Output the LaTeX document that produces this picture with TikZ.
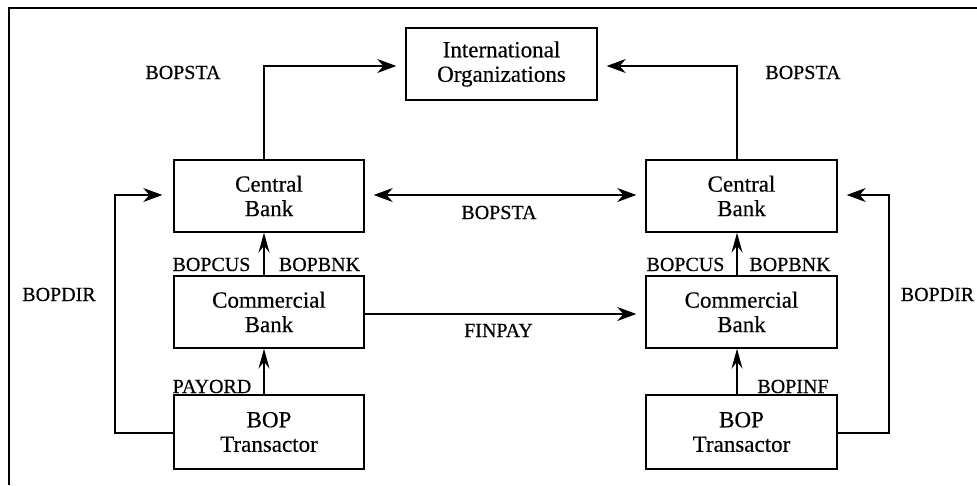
\documentclass[tikz,border=0pt]{standalone}
\usepackage{fontspec}
\setmainfont{Liberation Serif}[FakeBold=0.4]
\usetikzlibrary{arrows.meta,positioning}
\begin{document}
\begin{tikzpicture}[x=1pt,y=-1pt,
  box/.style={draw,line width=1.4pt,minimum width=190pt,minimum height=72pt,inner sep=0pt,align=center,
    font=\fontsize{23}{24.5}\selectfont},
  lbl/.style={inner sep=0pt,anchor=base,font=\fontsize{20}{24}\selectfont},
  conn/.style={line width=1.4pt},
  tip/.style={-{Stealth[length=19pt,width=14pt,inset=6pt]}},
  vtip/.style={-{Stealth[length=20pt,width=11pt,inset=7pt]}},
  dtip/.style={{Stealth[length=19pt,width=14pt,inset=6pt]}-{Stealth[length=19pt,width=14pt,inset=6pt]}}
]
\useasboundingbox (0,0) rectangle (977,485);
\draw[line width=1.2pt] (9,485) -- (9,8) -- (977,8);

\node[box,minimum width=191pt] (intl) at (501.5,64) {International\\Organizations};
\node[box] (cbL) at (269,196) {Central\\Bank};
\node[box,minimum width=191pt] (cbR) at (741.5,196) {Central\\Bank};
\node[box] (comL) at (269,312) {Commercial\\Bank};
\node[box,minimum width=191pt] (comR) at (741.5,312) {Commercial\\Bank};
\node[box,minimum height=74pt] (bopL) at (269,432) {BOP\\Transactor};
\node[box,minimum width=191pt,minimum height=74pt] (bopR) at (741.5,432) {BOP\\Transactor};

\coordinate (tl) at (264,66);
\coordinate (tr) at (737,66);
\coordinate (dl1) at (115,433);
\coordinate (dl2) at (115,195);
\coordinate (dr1) at (889,433);
\coordinate (dr2) at (889,195);

% to International Organizations
\draw[conn,tip,shorten >=9pt] ([xshift=-5pt]cbL.north) -- (tl) -- (intl.west |- tl);
\draw[conn,tip,shorten >=9pt] ([xshift=-4.5pt]cbR.north) -- (tr) -- (intl.east |- tr);

% central bank <-> central bank
\draw[conn,dtip,shorten >=9pt,shorten <=9pt] (cbL.east |- dl2) -- (cbR.west |- dl2);

% FINPAY
\draw[conn,tip,shorten >=9pt] (comL.east |- 0,314) -- (comR.west |- 0,314);

% vertical arrows
\draw[conn,vtip] ([xshift=-5pt]comL.north) -- ([xshift=-5pt]cbL.south);
\draw[conn,vtip] ([xshift=-5pt]bopL.north) -- ([xshift=-5pt]comL.south);
\draw[conn,vtip] ([xshift=-4.5pt]comR.north) -- ([xshift=-4.5pt]cbR.south);
\draw[conn,vtip] ([xshift=-4.5pt]bopR.north) -- ([xshift=-4.5pt]comR.south);

% BOPDIR loops
\draw[conn,tip,shorten >=11pt] (bopL.west |- dl1) -- (dl1) -- (dl2) -- (cbL.west |- dl2);
\draw[conn,tip,shorten >=9pt] (bopR.east |- dr1) -- (dr1) -- (dr2) -- (cbR.east |- dr2);

% labels
\node[lbl] (l1) at (183,79) {BOPSTA};
\node[lbl] (l2) at (803,79) {BOPSTA};
\node[lbl] (l3) at (499,219) {BOPSTA};
\node[lbl] (l4) at (498.5,337) {FINPAY};
\node[lbl] (l5) at (59,301) {BOPDIR};
\node[lbl] (l6) at (937.5,301) {BOPDIR};
\node[lbl] (l7) at (211.5,271) {BOPCUS};
\node[lbl] (l8) at (319.5,271) {BOPBNK};
\node[lbl] (l9) at (685.5,271) {BOPCUS};
\node[lbl] (l10) at (790,271) {BOPBNK};
\node[lbl] (l11) at (212,393) {PAYORD};
\node[lbl] (l12) at (793,393) {BOPINF};
\end{tikzpicture}
\end{document}
